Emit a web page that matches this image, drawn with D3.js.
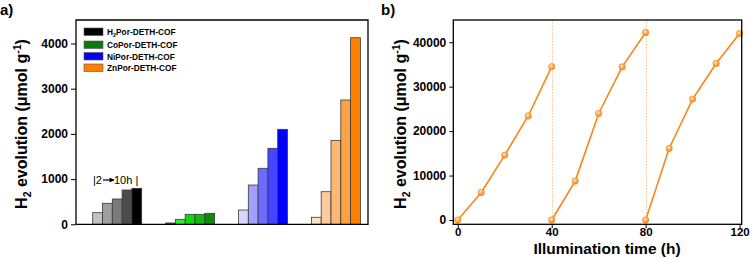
<!DOCTYPE html>
<html>
<head>
<meta charset="utf-8">
<script src="https://cdn.jsdelivr.net/npm/d3@7"></script>
<style>
  body { margin: 0; background: #fff; }
  svg { font-family: "Liberation Sans", Arial, sans-serif; }
  .tick text { font-weight: bold; font-size: 12px; fill: #000; }
  .xb .tick text { font-size: 11.5px; }
</style>
</head>
<body>
<svg id="chart" width="750" height="258"></svg>
<script>
// panel a data
const catalysts = ["H2Por-DETH-COF", "CoPor-DETH-COF", "NiPor-DETH-COF", "ZnPor-DETH-COF"];
const hours = ["2h", "4h", "6h", "8h", "10h"];
const h2porVals = [257, 465, 560, 759, 796];
const coporVals = [29, 110, 221, 221, 243];
const niporVals = [316, 869, 1239, 1681, 2101];
const znporVals = [155, 721, 1858, 2750, 4128];
const barColors = [
    ["#c3c3c3", "#9f9f9f", "#7b7b7b", "#4c4c4c", "#000000"],
    ["#1d6b1d", "#30f030", "#10d810", "#10bb10", "#0a8a0a"],
    ["#d6d6ff", "#a0a0ff", "#6b6bff", "#4545ff", "#0000ff"],
    ["#fde3c6", "#fdcb9c", "#feb772", "#fea143", "#ff8000"]
];
const legendColors = ["#000000", "#0b7a0b", "#0000ff", "#ff8000"];
const aTicks = [0, 1000, 2000, 3000, 4000];

// panel b data
const cycle1Time = [0, 10, 20, 30, 40];
const cycle1Vals = [0, 6200, 14600, 23400, 34500];
const cycle2Time = [40, 50, 60, 70, 80];
const cycle2Vals = [0, 8760, 23970, 34450, 42200];
const cycle3Time = [80, 90, 100, 110, 120];
const cycle3Vals = [0, 16100, 27200, 35200, 41950];
const cycleBreaks = [40, 80];
const bXTicks = [0, 40, 80, 120];
const bYTicks = [0, 10000, 20000, 30000, 40000];

const svg = d3.select("#chart");
const fmt = d3.format("d");

const defs = svg.append("defs");
const grad = defs.append("radialGradient").attr("id", "dot").attr("cx", "40%").attr("cy", "35%").attr("r", "65%");
grad.append("stop").attr("offset", "0%").attr("stop-color", "#ffe9c8");
grad.append("stop").attr("offset", "55%").attr("stop-color", "#fbab55");
grad.append("stop").attr("offset", "100%").attr("stop-color", "#f08a1c");
defs.append("marker").attr("id", "arrow").attr("viewBox", "0 0 10 10")
    .attr("refX", 9).attr("refY", 5).attr("markerWidth", 7).attr("markerHeight", 5)
    .attr("markerUnits", "userSpaceOnUse").attr("orient", "auto")
    .append("path").attr("d", "M0,0L10,5L0,10z").attr("fill", "#000");

function yLabel(x, y) {
    const t = svg.append("text")
        .attr("transform", `translate(${x},${y}) rotate(-90)`)
        .attr("text-anchor", "middle")
        .attr("font-weight", "bold").attr("font-size", 16);
    t.append("tspan").text("H");
    t.append("tspan").attr("font-size", 10.5).attr("dy", 4).text("2");
    t.append("tspan").attr("dy", -4).text(" evolution (μmol g");
    t.append("tspan").attr("font-size", 10.5).attr("dy", -6).text("-1");
    t.append("tspan").attr("dy", 6).text(")");
}

// ---------- panel a ----------
const aL = 76, aR = 368, aT = 20, aB = 224.3;
const ya = d3.scaleLinear().domain([0, 4520]).range([aB, aT]);
const xg = d3.scaleBand().domain(catalysts).range([92.7, 384.3]);
const xs = d3.scaleBand().domain(hours).range([0, 49]);
const aSeries = [h2porVals, coporVals, niporVals, znporVals];

svg.append("text").attr("x", 0).attr("y", 15).attr("font-weight", "bold").attr("font-size", 15).text("a)");

catalysts.forEach((c, gi) => {
    svg.append("g").selectAll("rect")
        .data(aSeries[gi])
        .join("rect")
        .attr("x", (d, i) => xg(c) + xs(hours[i]))
        .attr("y", d => ya(d))
        .attr("width", xs.bandwidth())
        .attr("height", d => aB - ya(d))
        .attr("fill", (d, i) => barColors[gi][i])
        .attr("stroke", "#3a3a3a")
        .attr("stroke-width", 0.8);
});

svg.append("g").attr("transform", `translate(${aL},0)`)
    .call(d3.axisLeft(ya).tickValues(aTicks).tickFormat(fmt).tickSize(5).tickPadding(3))
    .call(g => g.select(".domain").remove());
svg.append("path")
    .attr("d", `M${aL},${aB}V${aT}H${aR}V${aB}H${aL}`)
    .attr("fill", "none").attr("stroke", "#000").attr("stroke-width", 1.3);
yLabel(27, 124);

// legend
const lg = svg.append("g");
catalysts.forEach((c, i) => {
    const yy = [28, 41, 52.5, 64][i];
    lg.append("rect").attr("x", 84).attr("y", yy).attr("width", 19).attr("height", 7.5)
        .attr("fill", legendColors[i]).attr("stroke", "#555").attr("stroke-width", 0.6);
    const t = lg.append("text").attr("x", 107).attr("y", yy + 7)
        .attr("font-size", 8.3).attr("font-weight", "bold");
    if (c.startsWith("H2")) {
        t.append("tspan").text("H");
        t.append("tspan").attr("font-size", 5.5).attr("dy", 2).text("2");
        t.append("tspan").attr("dy", -2).text(c.slice(2));
    } else {
        t.text(c);
    }
});

// 2 -> 10h note
svg.append("text").attr("x", 93).attr("y", 184).attr("font-size", 11).text("|2");
svg.append("line").attr("x1", 103).attr("x2", 114).attr("y1", 180).attr("y2", 180)
    .attr("stroke", "#000").attr("stroke-width", 1.2).attr("marker-end", "url(#arrow)");
svg.append("text").attr("x", 114).attr("y", 184).attr("font-size", 11).text("10h |");

// ---------- panel b ----------
const bL = 453.3, bR = 741.7, bT = 20, bB = 224.3;
const xb = d3.scaleLinear().domain([-1.9, 120.9]).range([bL, bR]);
const yb = d3.scaleLinear().domain([-970, 45000]).range([bB, bT]);

svg.append("text").attr("x", 381).attr("y", 15).attr("font-weight", "bold").attr("font-size", 15).text("b)");

svg.append("g").selectAll("line")
    .data(cycleBreaks)
    .join("line")
    .attr("x1", d => Math.round(xb(d)) + 0.5).attr("x2", d => Math.round(xb(d)) + 0.5)
    .attr("y1", bT).attr("y2", bB)
    .attr("stroke", "#fcc58a").attr("stroke-width", 1).attr("stroke-dasharray", "1.5,1.5");

const cycles = [
    [cycle1Time, cycle1Vals],
    [cycle2Time, cycle2Vals],
    [cycle3Time, cycle3Vals]
];
const line = d3.line().x(d => xb(d[0])).y(d => yb(d[1]));
cycles.forEach(([ts, vs]) => {
    const pts = ts.map((t, i) => [t, vs[i]]);
    svg.append("path").datum(pts).attr("d", line)
        .attr("fill", "none").attr("stroke", "#fb8519").attr("stroke-width", 1.6);
    svg.append("g").selectAll("circle").data(pts).join("circle")
        .attr("cx", d => xb(d[0])).attr("cy", d => yb(d[1])).attr("r", 3.2)
        .attr("fill", "url(#dot)").attr("stroke", "#f08a1c").attr("stroke-width", 0.6);
});

svg.append("g").attr("transform", `translate(${bL},0)`)
    .call(d3.axisLeft(yb).tickValues(bYTicks).tickFormat(fmt).tickSize(4).tickPadding(3))
    .call(g => g.select(".domain").remove());
svg.append("g").attr("class", "xb").attr("transform", `translate(0,${bB})`)
    .call(d3.axisBottom(xb).tickValues(bXTicks).tickSize(4).tickPadding(0))
    .call(g => g.select(".domain").remove());
svg.append("rect").attr("x", bL).attr("y", bT).attr("width", bR - bL).attr("height", bB - bT)
    .attr("fill", "none").attr("stroke", "#000").attr("stroke-width", 1.3);
yLabel(406, 124);

svg.append("text").attr("x", 607).attr("y", 254).attr("text-anchor", "middle")
    .attr("font-weight", "bold").attr("font-size", 15.5).text("Illumination time (h)");
</script>
</body>
</html>
